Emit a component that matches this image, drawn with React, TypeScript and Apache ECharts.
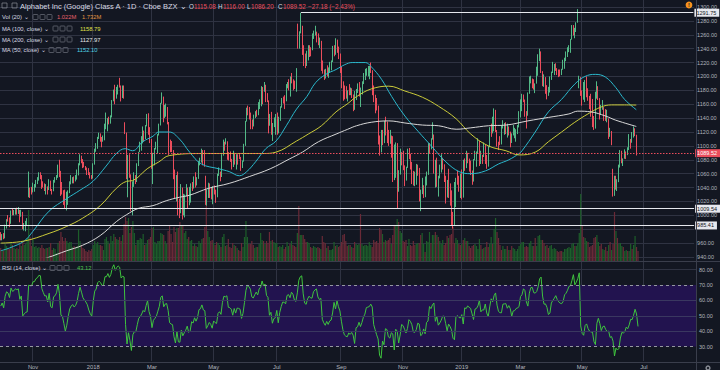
import React, { useEffect, useRef } from "react";
import * as echarts from "echarts";

const FONT = "'Liberation Sans', Arial, sans-serif";
const BG = "#131722";
const GRID = "#2f3342";
const AXIS_TEXT = "#b2b5be";
const LEGEND_TEXT = "#d8dae2";
const UP = "#53b987";
const DOWN = "#eb4d5c";
const VOL_UP = "#1d5e2a";
const VOL_DOWN = "#6a2a37";

// ---- calendar ----
const FIRST_DAY = "2017-10-02";
const AXIS_DAYS = 474;
const HOLIDAYS = [
  "2017-11-23", "2017-12-25", "2018-01-01", "2018-01-15", "2018-02-19", "2018-03-30",
  "2018-05-28", "2018-07-04", "2018-09-03", "2018-11-22", "2018-12-05", "2018-12-25",
  "2019-01-01", "2019-01-21", "2019-02-18", "2019-04-19", "2019-05-27", "2019-07-04",
];
const MONTH_NAMES = ["Jan", "Feb", "Mar", "Apr", "May", "Jun", "Jul", "Aug", "Sep", "Oct", "Nov", "Dec"];
const LABEL_MONTHS = [0, 2, 4, 6, 8, 10];

// ---- prices (daily, Oct 2 2017 .. Jun 25 2019) ----
const closesSep2017 = [955.3, 943.0, 943.4, 952.6, 944.8, 954.5, 960.4, 965.5, 949.2, 941.2, 940.4, 941.1, 947.3, 947.6, 945.9, 934.0, 940.4, 956.2, 961.0, 973.7];
const firstOpen = 975.6;

const closes = [
  // Oct 2017
  967.5, 972.1, 966.8, 985.2, 993.6, 992.3, 987.8, 1005.7, 1002.4, 1003.7, 1007.2, 1006.3, 1007.9, 999.0, 1003.8, 982.9, 985.4, 987.4, 987.8, 1033.7, 1033.1, 1033.0,
  // Nov 2017
  1042.6, 1043.0, 1050.0, 1052.4, 1058.3, 1058.0, 1047.7, 1044.2, 1041.2, 1041.6, 1036.4, 1048.5, 1035.9, 1034.7, 1050.3, 1051.9, 1056.5, 1072.0, 1063.3, 1037.4, 1036.2,
  // Dec 2017
  1025.1, 1011.9, 1019.6, 1032.7, 1044.6, 1049.4, 1052.0, 1048.8, 1051.4, 1057.5, 1072.0, 1085.1, 1079.8, 1073.6, 1070.9, 1068.9, 1065.9, 1060.2, 1056.0, 1053.4,
  // Jan 2018
  1073.2, 1091.5, 1095.8, 1110.3, 1114.2, 1112.8, 1110.1, 1112.1, 1130.7, 1130.7, 1139.1, 1136.0, 1143.5, 1164.2, 1176.2, 1171.3, 1182.1, 1187.6, 1186.5, 1177.4, 1182.2,
  // Feb 2018
  1181.6, 1119.2, 1062.4, 1084.4, 1055.4, 1007.7, 1046.3, 1054.6, 1054.1, 1072.7, 1091.4, 1095.5, 1103.6, 1113.8, 1109.9, 1128.1, 1143.7, 1117.5, 1104.7,
  // Mar 2018
  1069.5, 1089.5, 1094.8, 1100.9, 1115.0, 1129.4, 1160.8, 1165.9, 1139.9, 1148.9, 1150.6, 1134.4, 1100.1, 1095.8, 1094.0, 1053.2, 1026.6, 1054.1, 1006.9, 1005.2, 1037.1,
  // Apr 2018
  1012.0, 1020.3, 1027.5, 1038.5, 1014.5, 1018.3, 1043.2, 1038.6, 1053.3, 1043.0, 1052.5, 1075.4, 1078.2, 1089.9, 1077.9, 1076.1, 1026.6, 1033.1, 1041.2, 1035.8, 1024.4,
  // May 2018
  1040.8, 1036.2, 1034.3, 1056.8, 1060.8, 1055.2, 1085.9, 1104.7, 1103.4, 1106.6, 1084.9, 1084.1, 1081.3, 1069.6, 1084.0, 1075.3, 1086.0, 1085.5, 1084.1, 1068.1, 1077.3, 1100.0,
  // Jun 2018
  1135.0, 1153.0, 1151.0, 1147.0, 1134.4, 1132.7, 1140.9, 1148.2, 1144.2, 1160.1, 1165.5, 1184.7, 1178.0, 1184.0, 1168.4, 1165.5, 1135.3, 1141.3, 1118.5, 1127.6, 1129.2,
  // Jul 2018
  1144.0, 1118.0, 1140.5, 1155.0, 1167.3, 1167.1, 1164.2, 1186.5, 1188.8, 1183.9, 1198.8, 1195.9, 1187.0, 1184.9, 1205.5, 1248.1, 1263.7, 1268.3, 1238.5, 1219.7, 1217.3,
  // Aug 2018
  1233.0, 1241.1, 1238.2, 1237.7, 1255.8, 1261.3, 1264.5, 1252.5, 1248.6, 1251.3, 1214.4, 1206.5, 1201.0, 1207.8, 1201.6, 1207.3, 1208.8, 1220.7, 1241.8, 1231.2, 1249.3, 1239.1, 1231.8,
  // Sep 2018
  1211.9, 1192.0, 1178.1, 1174.3, 1172.7, 1178.3, 1175.1, 1177.8, 1172.0, 1151.9, 1174.8, 1176.2, 1183.5, 1175.1, 1181.4, 1190.0, 1194.8, 1206.2, 1207.1,
  // Oct 2018
  1208.0, 1212.0, 1208.5, 1183.0, 1173.6, 1163.6, 1154.5, 1104.4, 1090.6, 1116.8, 1104.0, 1134.2, 1131.8, 1109.1, 1104.9, 1114.9, 1111.4, 1050.7, 1098.0, 1090.6, 1037.0, 1058.7, 1090.6,
  // Nov 2018
  1086.0, 1071.5, 1055.8, 1068.3, 1094.6, 1088.7, 1077.0, 1049.4, 1048.0, 1054.6, 1071.1, 1068.3, 1027.4, 1030.5, 1043.3, 1026.1, 1054.6, 1058.3, 1103.0, 1097.3, 1109.7,
  // Dec 2018
  1116.4, 1062.5, 1078.1, 1046.6, 1053.2, 1061.7, 1073.7, 1073.5, 1051.7, 1025.7, 1043.4, 1035.5, 1023.6, 991.3, 984.7, 1047.9, 1052.9, 1046.7, 1045.0,
  // Jan 2019
  1054.7, 1025.5, 1078.1, 1075.9, 1085.4, 1081.7, 1078.8, 1064.5, 1048.6, 1079.2, 1081.2, 1089.0, 1107.3, 1078.6, 1084.4, 1084.0, 1101.5, 1079.9, 1070.1, 1098.0, 1125.9,
  // Feb 2019
  1118.6, 1141.4, 1151.9, 1122.9, 1105.9, 1102.4, 1102.1, 1127.6, 1128.6, 1129.2, 1119.6, 1126.5, 1120.6, 1104.2, 1116.6, 1117.3, 1122.0, 1122.9, 1126.6,
  // Mar 2019
  1148.5, 1153.4, 1169.2, 1166.8, 1150.1, 1143.4, 1175.8, 1193.2, 1194.2, 1186.2, 1185.6, 1189.6, 1202.4, 1229.0, 1236.1, 1207.7, 1193.0, 1193.6, 1187.5, 1174.0, 1176.9,
  // Apr 2019
  1199.0, 1205.5, 1210.8, 1217.2, 1211.5, 1208.1, 1206.3, 1205.6, 1209.6, 1222.2, 1225.5, 1231.6, 1240.1, 1241.5, 1253.8, 1270.6, 1260.1, 1267.3, 1277.4, 1296.2, 1199.0,
  // May 2019
  1173.3, 1166.5, 1189.6, 1193.5, 1178.9, 1170.8, 1168.0, 1167.6, 1136.6, 1124.9, 1170.8, 1184.5, 1168.8, 1144.7, 1154.4, 1155.9, 1145.3, 1138.6, 1139.6, 1119.9, 1121.4, 1106.5,
  // Jun 2019
  1038.7, 1054.5, 1044.6, 1047.8, 1068.8, 1081.0, 1079.1, 1081.5, 1091.0, 1086.7, 1094.0, 1105.2, 1104.5, 1113.2, 1125.4, 1116.7, 1089.52,
];

const highs = [
  975.8, 973, 974.4, 986.5, 994.5, 1000.4, 997, 1007, 1009.5, 1007.8, 1009, 1011, 1012, 1003, 1008, 1005, 989, 992, 996, 1063, 1040, 1041,
  1047, 1045, 1051, 1055, 1062, 1062, 1053, 1049, 1046, 1045, 1039, 1052, 1050, 1038, 1051, 1055, 1058, 1073, 1080, 1064, 1048,
  1032, 1037, 1034, 1036, 1049, 1058, 1055, 1056, 1058, 1066, 1075, 1088, 1086, 1081, 1077, 1071, 1068, 1068, 1062, 1058,
  1075, 1096, 1104, 1113, 1119, 1118, 1112, 1115, 1132, 1148, 1140, 1142, 1144, 1166, 1181, 1188, 1185, 1188, 1198, 1187, 1187,
  1187, 1134, 1111, 1087, 1088, 1059, 1049, 1062, 1058, 1075, 1091.4, 1106, 1114, 1128, 1122, 1130, 1146, 1147, 1127,
  1110, 1090, 1097, 1106, 1117, 1132, 1162, 1177, 1171, 1159, 1161, 1156, 1123, 1109, 1107, 1083, 1066, 1058, 1063, 1024, 1045,
  1040, 1031, 1030, 1045, 1040, 1041, 1046, 1048, 1056, 1062, 1055, 1078, 1083, 1096, 1094, 1094, 1057, 1037, 1047, 1046, 1041,
  1042, 1043, 1037, 1060, 1069, 1063, 1088, 1109, 1106, 1111, 1099, 1091, 1092, 1078, 1093, 1090, 1088, 1088, 1088, 1081, 1079, 1103,
  1136, 1155, 1158, 1156, 1148, 1138, 1145, 1150, 1152, 1163, 1167, 1186, 1181, 1192, 1188, 1176, 1155, 1146, 1149, 1133, 1141,
  1146, 1148, 1142, 1157, 1169, 1171, 1173, 1189, 1192, 1196, 1200, 1205, 1193, 1194, 1212, 1276, 1265, 1291.75, 1273, 1245, 1233,
  1237, 1245, 1245, 1242, 1262, 1266, 1273, 1263, 1262, 1256, 1241, 1223, 1210, 1211, 1216, 1213, 1221, 1223, 1244, 1245, 1255, 1253, 1243,
  1233, 1214, 1193, 1187, 1186, 1180, 1189, 1184, 1183, 1174, 1179, 1182, 1190, 1192, 1184, 1193, 1205, 1211, 1212,
  1215, 1215, 1220, 1209, 1187, 1173, 1169, 1158, 1115, 1123, 1123, 1136, 1142, 1135, 1123, 1123, 1113, 1114, 1102, 1105, 1104, 1065, 1096,
  1091, 1093, 1072, 1070, 1096, 1097, 1083, 1077, 1064, 1063, 1074, 1073, 1066, 1037, 1054, 1038, 1056, 1063, 1104, 1104, 1111,
  1134, 1112, 1080, 1083, 1057, 1073, 1088, 1083, 1068, 1057, 1051, 1067, 1046, 1036, 1005, 1048, 1054, 1064, 1057,
  1060, 1066, 1080, 1082, 1093, 1090, 1079, 1073, 1058, 1081, 1093, 1092, 1111, 1102, 1093, 1087, 1105, 1090, 1087, 1100, 1127,
  1132, 1142, 1154, 1146, 1118, 1106, 1114, 1130, 1137, 1133, 1134, 1132, 1128, 1120, 1118, 1130, 1126, 1124, 1130,
  1150, 1167, 1175, 1174, 1164, 1146, 1177, 1200, 1201, 1197, 1196, 1190, 1214, 1232, 1240, 1234, 1206, 1203, 1199, 1183, 1185,
  1200, 1207, 1221, 1218, 1219, 1212, 1210, 1210, 1211, 1224, 1227, 1236, 1242, 1245, 1254, 1274, 1274, 1270, 1278, 1297, 1201,
  1198, 1180, 1192, 1195, 1200, 1183, 1172, 1175, 1150, 1143, 1178, 1193, 1186, 1156, 1159, 1166, 1151, 1153, 1152, 1130, 1126, 1114,
  1067, 1057, 1057, 1052, 1073, 1094, 1093, 1082, 1095, 1092, 1098, 1117, 1110, 1120, 1128, 1124, 1116,
];

const lows = [
  964, 964, 965.6, 970.3, 981, 991, 983, 990, 1000, 1000, 1001, 1001, 1002, 990, 998, 980, 978, 977, 985, 1026, 1025, 1030,
  1033, 1034, 1040, 1045, 1050, 1052, 1038, 1040, 1035, 1030, 1030, 1040, 1035, 1030, 1040, 1047, 1051, 1054, 1055, 1028, 1030,
  1015, 1010, 1007, 1015, 1032, 1048, 1046, 1046, 1050, 1053, 1060, 1072, 1075, 1068, 1069, 1065, 1058, 1058, 1053, 1052,
  1053, 1073, 1092, 1101, 1110, 1106, 1098, 1106, 1108, 1124, 1121, 1131, 1132, 1141, 1167, 1160, 1168, 1174, 1184, 1164, 1169,
  1168, 1117, 1052, 1026, 1054, 1006, 1000, 1041, 1045, 1048, 1071, 1091, 1093, 1106, 1106, 1113, 1129, 1116, 1104,
  1067, 1045, 1072, 1095, 1089, 1118, 1137, 1163, 1134, 1142, 1142, 1131, 1087, 1091, 1091, 1052, 1025, 1020, 1000, 996, 1003,
  994, 1000, 997, 1030, 1010, 1015, 1027, 1035, 1040, 1040, 1044, 1060, 1072, 1076, 1072, 1070, 1015, 1014, 1025, 1025, 1023,
  1016, 1030, 1018, 1026, 1057, 1049, 1060, 1089, 1093, 1102, 1080, 1079, 1077, 1066, 1080, 1073, 1066, 1073, 1081, 1064, 1069, 1078,
  1108, 1139, 1144, 1138, 1124, 1124, 1128, 1140, 1142, 1147, 1153, 1157, 1160, 1178, 1163, 1163, 1118, 1129, 1116, 1107, 1127,
  1116, 1116, 1121, 1136, 1157, 1161, 1153, 1170, 1183, 1180, 1171, 1190, 1180, 1182, 1178, 1240, 1240, 1262, 1231, 1215, 1212,
  1215, 1223, 1228, 1229, 1241, 1254, 1259, 1249, 1245, 1241, 1208, 1204, 1195, 1197, 1200, 1198, 1205, 1210, 1227, 1229, 1232, 1234, 1225,
  1205, 1183, 1165, 1167, 1168, 1164, 1173, 1173, 1169, 1150, 1153, 1166, 1178, 1171, 1156, 1174, 1189, 1197, 1201,
  1200, 1196, 1205, 1173, 1163, 1147, 1151, 1102, 1086, 1100, 1101, 1110, 1115, 1104, 1100, 1103, 1083, 1048, 1066, 1054, 1010, 1034, 1067,
  1072, 1065, 1042, 1050, 1074, 1081, 1066, 1045, 1043, 1042, 1044, 1057, 1020, 1006, 1037, 1025, 1033, 1043, 1061, 1089, 1095,
  1109, 1060, 1040, 1041, 1027, 1056, 1068, 1066, 1048, 1017, 1031, 1025, 1014, 985, 981, 987, 1012, 1044, 1034,
  1025, 1023, 1036, 1064, 1068, 1075, 1063, 1058, 1044, 1051, 1080, 1070, 1095, 1071, 1074, 1074, 1095, 1074, 1067, 1080, 1102,
  1113, 1118, 1121, 1120, 1099, 1094, 1101, 1110, 1125, 1116, 1117, 1112, 1115, 1098, 1107, 1115, 1111, 1106, 1117,
  1132, 1141, 1150, 1163, 1142, 1125, 1144, 1175, 1190, 1183, 1181, 1176, 1195, 1201, 1222, 1205, 1186, 1185, 1175, 1167, 1172,
  1185, 1195, 1205, 1202, 1208, 1202, 1199, 1200, 1202, 1213, 1211, 1222, 1228, 1235, 1234, 1253, 1259, 1255, 1264, 1279, 1183,
  1172, 1158, 1171, 1163, 1170, 1165, 1153, 1142, 1127, 1123, 1126, 1168, 1166, 1138, 1148, 1152, 1136, 1136, 1134, 1110, 1113, 1101,
  1027, 1028, 1037, 1035, 1052, 1073, 1075, 1071, 1082, 1081, 1088, 1100, 1096, 1107, 1112, 1114, 1086.2,
];

// volume, millions
const volumes = [
  1.3, 1.1, 1.0, 1.7, 1.5, 1.3, 1.2, 1.8, 1.6, 1.3, 1.2, 1.3, 1.2, 1.7, 1.5, 1.9, 1.6, 1.7, 2.3, 5.1, 2.4, 1.5,
  2.1, 1.4, 1.5, 1.3, 1.4, 1.3, 1.6, 1.3, 1.2, 1.3, 1.3, 1.4, 1.8, 1.1, 1.3, 1.2, 0.8, 1.8, 2.0, 2.9, 2.4,
  2.0, 2.3, 2.0, 1.8, 1.9, 1.9, 1.4, 1.5, 1.3, 1.5, 3.2, 2.0, 1.6, 1.3, 1.2, 1.0, 0.9, 1.1, 1.0, 1.2,
  1.6, 2.0, 1.7, 1.9, 1.6, 1.6, 1.5, 1.1, 2.2, 2.4, 2.0, 1.7, 2.5, 2.0, 2.7, 2.4, 2.2, 2.1, 2.4, 2.0, 2.6,
  3.7, 4.4, 4.0, 4.3, 2.8, 3.4, 4.0, 2.8, 1.6, 2.1, 2.1, 2.3, 2.2, 2.7, 1.6, 1.7, 2.1, 2.2, 2.4,
  3.3, 3.4, 1.9, 1.7, 2.0, 2.0, 2.8, 2.7, 2.6, 2.0, 1.7, 3.0, 3.6, 2.7, 1.9, 3.4, 2.9, 3.3, 3.3, 3.9, 3.5,
  3.5, 2.8, 3.0, 2.2, 2.4, 2.0, 2.1, 1.5, 1.7, 1.5, 1.4, 2.0, 1.8, 2.2, 2.3, 3.4, 6.2, 3.0, 2.4, 2.0, 2.1,
  1.8, 1.6, 1.9, 1.8, 1.6, 1.4, 2.4, 2.7, 1.5, 1.6, 2.2, 1.4, 1.3, 1.8, 1.6, 1.5, 1.3, 1.1, 1.0, 1.8, 1.4, 2.4,
  4.0, 2.4, 1.7, 1.7, 2.0, 1.6, 1.3, 1.4, 1.4, 1.7, 2.8, 2.1, 2.0, 1.7, 2.0, 1.8, 2.9, 2.0, 2.1, 1.9, 1.8,
  1.8, 1.4, 1.5, 1.4, 1.6, 1.2, 1.4, 1.9, 1.5, 1.7, 2.0, 1.6, 1.5, 1.4, 2.8, 5.5, 2.6, 2.6, 2.6, 2.2, 1.9,
  1.9, 1.8, 1.4, 1.3, 1.5, 1.4, 1.3, 1.4, 1.3, 1.2, 2.5, 1.9, 1.8, 1.3, 1.5, 1.1, 1.1, 1.2, 1.9, 1.5, 1.6, 1.4, 1.5,
  1.9, 2.6, 2.7, 2.0, 1.5, 1.6, 1.6, 1.4, 1.3, 1.9, 1.7, 1.6, 1.7, 4.7, 1.7, 1.5, 1.6, 1.6, 1.5,
  1.9, 1.6, 1.4, 2.1, 1.9, 2.0, 1.8, 3.3, 3.1, 2.7, 1.9, 2.1, 2.0, 2.1, 2.3, 1.7, 2.6, 3.6, 3.5, 4.2, 3.9, 3.0, 2.8,
  2.0, 1.9, 2.1, 1.5, 2.2, 1.6, 1.5, 2.0, 1.6, 1.7, 1.8, 1.8, 2.6, 2.8, 1.7, 0.9, 2.0, 1.9, 2.9, 1.8, 2.6,
  2.6, 2.9, 2.6, 2.4, 2.0, 1.7, 2.1, 1.6, 1.8, 2.5, 2.3, 2.6, 2.7, 3.4, 1.8, 2.3, 2.1, 1.7, 1.6,
  1.7, 2.1, 2.3, 2.0, 2.0, 1.5, 1.3, 1.5, 1.6, 1.7, 1.5, 1.2, 2.2, 1.6, 1.2, 1.3, 1.4, 1.9, 1.4, 1.7, 2.4,
  1.7, 3.2, 4.3, 2.9, 2.3, 1.6, 1.1, 1.5, 1.2, 1.2, 1.5, 1.1, 1.1, 1.5, 1.3, 1.2, 1.0, 1.2, 1.5,
  1.7, 1.9, 1.9, 1.4, 1.5, 1.4, 1.8, 2.0, 1.5, 1.5, 2.3, 1.5, 2.5, 2.6, 2.1, 2.1, 1.8, 1.5, 1.6, 1.3, 1.5,
  1.6, 1.2, 1.3, 1.2, 1.0, 0.9, 1.0, 1.0, 0.9, 1.2, 1.2, 1.3, 1.4, 1.3, 1.7, 1.8, 1.5, 1.5, 1.8, 2.8, 6.7,
  3.6, 2.4, 2.3, 2.0, 1.9, 1.4, 1.5, 1.6, 2.3, 2.4, 2.6, 1.9, 1.5, 1.7, 1.2, 1.1, 1.4, 1.0, 1.6, 1.9, 1.1, 1.7,
  4.9, 3.0, 2.3, 1.7, 1.8, 1.5, 1.4, 1.0, 1.1, 1.0, 1.0, 1.7, 1.2, 1.6, 2.5, 1.4, 1.0,
];

// opening gaps (open differs from previous close)
const openGaps: [string, number][] = [
  ["2017-10-27", 1031], ["2018-02-02", 1128], ["2018-04-24", 1052], ["2018-07-24", 1271],
  ["2018-10-26", 1060], ["2019-04-30", 1190], ["2019-06-03", 1066], ["2019-06-25", 1115.08],
];

// moving averages
const ma50: [string, number][] = [
  ["2017-10-02", 949], ["2017-10-10", 953], ["2017-10-24", 963], ["2017-11-01", 977], ["2017-11-16", 1006],
  ["2017-12-05", 1024], ["2017-12-18", 1036], ["2018-01-02", 1049], ["2018-01-16", 1071], ["2018-01-25", 1089],
  ["2018-02-02", 1096], ["2018-02-09", 1093], ["2018-02-21", 1106], ["2018-03-02", 1114], ["2018-03-08", 1120],
  ["2018-03-19", 1120], ["2018-03-28", 1110], ["2018-04-09", 1091], ["2018-04-19", 1074], ["2018-05-07", 1067],
  ["2018-05-16", 1063], ["2018-05-25", 1057], ["2018-06-04", 1063], ["2018-06-12", 1077], ["2018-06-21", 1096],
  ["2018-07-02", 1107], ["2018-07-12", 1129], ["2018-07-23", 1153], ["2018-08-01", 1171], ["2018-08-09", 1191],
  ["2018-08-20", 1203], ["2018-08-29", 1210], ["2018-09-07", 1217], ["2018-09-14", 1220], ["2018-09-27", 1220],
  ["2018-10-03", 1214], ["2018-10-12", 1196], ["2018-10-23", 1171], ["2018-11-05", 1143], ["2018-11-16", 1121],
  ["2018-11-30", 1100], ["2018-12-17", 1077], ["2018-12-31", 1063], ["2019-01-11", 1060], ["2019-01-28", 1064],
  ["2019-02-08", 1074], ["2019-02-20", 1080], ["2019-03-01", 1089], ["2019-03-05", 1093], ["2019-03-18", 1120],
  ["2019-03-29", 1149], ["2019-04-11", 1167], ["2019-04-25", 1189], ["2019-05-06", 1200], ["2019-05-15", 1203],
  ["2019-05-24", 1199], ["2019-06-05", 1184], ["2019-06-13", 1167], ["2019-06-25", 1152.1],
];
const ma100: [string, number][] = [
  ["2017-10-02", 960], ["2017-10-24", 963], ["2017-11-16", 974], ["2017-12-05", 984], ["2017-12-20", 996],
  ["2018-01-09", 1014], ["2018-01-25", 1039], ["2018-02-05", 1049], ["2018-02-09", 1050], ["2018-02-26", 1067],
  ["2018-03-08", 1077], ["2018-03-19", 1086], ["2018-04-19", 1089], ["2018-05-23", 1089], ["2018-06-19", 1089],
  ["2018-07-02", 1091], ["2018-07-23", 1107], ["2018-08-02", 1117], ["2018-08-15", 1129], ["2018-08-29", 1149],
  ["2018-09-11", 1161], ["2018-09-19", 1171], ["2018-10-03", 1182], ["2018-10-19", 1186], ["2018-11-05", 1179],
  ["2018-11-21", 1170], ["2018-12-10", 1157], ["2018-12-27", 1139], ["2019-01-11", 1117], ["2019-01-30", 1100],
  ["2019-02-15", 1093], ["2019-03-01", 1087], ["2019-03-18", 1091], ["2019-03-29", 1106], ["2019-04-11", 1120],
  ["2019-04-25", 1134], ["2019-05-08", 1146], ["2019-05-21", 1156], ["2019-05-31", 1159], ["2019-06-13", 1159],
  ["2019-06-25", 1158.8],
];
const ma200: [string, number][] = [
  ["2017-10-02", 918], ["2017-10-24", 928], ["2017-11-15", 939], ["2017-12-05", 949], ["2017-12-20", 957],
  ["2018-01-09", 971], ["2018-01-25", 991], ["2018-02-05", 1001], ["2018-02-15", 1010], ["2018-03-02", 1014],
  ["2018-03-15", 1021], ["2018-03-28", 1026], ["2018-04-09", 1029], ["2018-04-26", 1039], ["2018-05-16", 1046],
  ["2018-06-06", 1056], ["2018-06-26", 1067], ["2018-07-16", 1081], ["2018-07-27", 1091], ["2018-08-13", 1106],
  ["2018-08-29", 1117], ["2018-09-11", 1124], ["2018-09-19", 1129], ["2018-10-03", 1134], ["2018-10-19", 1136],
  ["2018-11-05", 1133], ["2018-11-21", 1130], ["2018-12-10", 1129], ["2018-12-27", 1124], ["2019-01-11", 1126],
  ["2019-01-30", 1129], ["2019-02-15", 1130], ["2019-03-11", 1136], ["2019-03-29", 1141], ["2019-04-18", 1146],
  ["2019-04-29", 1150], ["2019-05-10", 1149], ["2019-05-24", 1143], ["2019-06-05", 1137], ["2019-06-25", 1128],
];

// horizontal price lines
const levelLines = [1009.54, 985.41];
const highLine: [string, number] = ["2018-07-26", 1291.75];
const lastPrice = 1089.52;
// price-scale ticks hidden behind the level boxes
const hiddenPriceTicks = [980];

// RSI levels
const rsiGridLevels = [80, 60, 50, 40];
const rsiBands = [70, 30];

function buildDates(): string[] {
  const out: string[] = [];
  const d = new Date(FIRST_DAY + "T00:00:00Z");
  while (out.length < AXIS_DAYS) {
    const wd = d.getUTCDay();
    const s = d.toISOString().slice(0, 10);
    if (wd !== 0 && wd !== 6 && !HOLIDAYS.includes(s)) out.push(s);
    d.setUTCDate(d.getUTCDate() + 1);
  }
  return out;
}

function computeRsi(all: number[], period: number): number[] {
  const out: number[] = all.map(() => NaN);
  let g = 0;
  let l = 0;
  for (let i = 1; i <= period; i++) {
    const d = all[i] - all[i - 1];
    if (d > 0) g += d;
    else l -= d;
  }
  g /= period;
  l /= period;
  out[period] = 100 - 100 / (1 + g / l);
  for (let i = period + 1; i < all.length; i++) {
    const d = all[i] - all[i - 1];
    g = (g * (period - 1) + Math.max(d, 0)) / period;
    l = (l * (period - 1) + Math.max(-d, 0)) / period;
    out[i] = l === 0 ? 100 : 100 - 100 / (1 + g / l);
  }
  return out;
}

function txt(x: number, y: number, text: string, fill: string, size: number) {
  return {
    type: "text",
    x,
    y,
    z: 100,
    silent: true,
    style: { text, fill, fontSize: size, fontFamily: FONT, verticalAlign: "middle", align: "left" },
  };
}
function iconRow(x: number, y: number) {
  return [0, 1, 2].map((k) => ({
    type: "rect",
    z: 100,
    silent: true,
    shape: { x: x + k * 7, y: y - 2.5, width: 5, height: 5, r: 0.8 },
    style: { fill: "none", stroke: "#70737e", lineWidth: 0.7 },
  }));
}

export default function App() {
  const ref = useRef<HTMLDivElement>(null);

  useEffect(() => {
    if (!ref.current) return;
    const chart = echarts.init(ref.current, null, { renderer: "svg" });

    const dates = buildDates();
    const gapMap: Record<string, number> = {};
    openGaps.forEach(([d, o]) => (gapMap[d] = o));

    const candles = closes.map((c, i) => {
      const o = gapMap[dates[i]] !== undefined ? gapMap[dates[i]] : i === 0 ? firstOpen : closes[i - 1];
      const h = Math.max(highs[i], o, c);
      const l = Math.min(lows[i], o, c);
      return [o, c, l, h];
    });
    const volData = volumes.map((v, i) => ({
      value: v,
      itemStyle: { color: candles[i][1] >= candles[i][0] ? VOL_UP : VOL_DOWN },
    }));
    const rsiAll = computeRsi([...closesSep2017, ...closes], 14);
    const rsi = rsiAll.slice(closesSep2017.length);

    const labelIdx = new Set<number>();
    for (let i = 1; i < dates.length; i++) {
      const m = parseInt(dates[i].slice(5, 7), 10) - 1;
      const pm = parseInt(dates[i - 1].slice(5, 7), 10) - 1;
      if (m !== pm && LABEL_MONTHS.includes(m)) labelIdx.add(i);
    }
    const isLabel = (i: number) => labelIdx.has(i);
    const fmtDate = (v: string) => {
      const m = parseInt(v.slice(5, 7), 10) - 1;
      return m === 0 ? v.slice(0, 4) : MONTH_NAMES[m];
    };
    const lastDate = dates[dates.length - 1];

    const priceBox = (text: string, bg: string, fg: string) => ({
      show: true,
      position: "end",
      distance: 1,
      formatter: text,
      color: fg,
      backgroundColor: bg,
      padding: [1, 3, 1, 2],
      fontSize: 5.5,
      fontFamily: FONT,
    });

    const W = 696;
    const grids = [
      { left: 0, width: W, top: 7, height: 250 }, // price
      { left: 0, width: W, top: 161, height: 100 }, // volume
      { left: 0, width: W, top: 261, height: 101 }, // rsi
      { left: 0, width: W, top: 0, height: 362 }, // vertical grid + time labels
    ];
    const hiddenX = (gi: number) => ({
      type: "category",
      gridIndex: gi,
      data: dates,
      boundaryGap: true,
      show: false,
    });

    const legend: any[] = [
      { type: "rect", z: 100, silent: true, shape: { x: 2, y: 3, width: 5, height: 5 }, style: { fill: "none", stroke: "#8a8d96", lineWidth: 0.7 } },
      { type: "rect", z: 100, silent: true, shape: { x: 12, y: 3, width: 5, height: 5 }, style: { fill: "none", stroke: "#8a8d96", lineWidth: 0.7 } },
      txt(20, 6, "Alphabet Inc (Google) Class A · 1D · Cboe BZX ⌄", LEGEND_TEXT, 7.5),
      txt(189, 6, "O", LEGEND_TEXT, 6.3),
      txt(194, 6, "1115.08", DOWN, 6.3),
      txt(218, 6, "H", LEGEND_TEXT, 6.3),
      txt(223, 6, "1116.00", DOWN, 6.3),
      txt(247, 6, "L", LEGEND_TEXT, 6.3),
      txt(251, 6, "1086.20", DOWN, 6.3),
      txt(278, 6, "C", LEGEND_TEXT, 6.3),
      txt(283, 6, "1089.52", DOWN, 6.3),
      txt(308, 6, "−27.18 (−2.43%)", DOWN, 6.3),

      txt(2, 17, "Vol (20) ⌄", LEGEND_TEXT, 5.8),
      ...iconRow(33, 17),
      txt(57, 17, "1.022M", "#e5606a", 5.8),
      txt(82, 17, "1.732M", "#e09540", 5.8),

      txt(2, 28.5, "MA (100, close) ⌄", LEGEND_TEXT, 5.8),
      ...iconRow(53, 28.5),
      txt(80, 28.5, "1158.79", "#e0e04a", 5.8),

      txt(2, 39.5, "MA (200, close) ⌄", LEGEND_TEXT, 5.8),
      ...iconRow(53, 39.5),
      txt(80, 39.5, "1127.97", "#e8e8e8", 5.8),

      txt(2, 50, "MA (50, close) ⌄", LEGEND_TEXT, 5.8),
      ...iconRow(49, 50),
      txt(77, 50, "1152.10", "#4fd3e4", 5.8),

      txt(2, 268, "RSI (14, close) ⌄", LEGEND_TEXT, 5.8),
      ...iconRow(50, 268),
      txt(77, 268, "43.12", "#4cc24c", 5.8),

      // pane separators and price-scale border
      { type: "line", z: 90, silent: true, shape: { x1: 0, y1: 261.5, x2: 720, y2: 261.5 }, style: { stroke: "#3a3e4c", lineWidth: 1 } },
      { type: "line", z: 90, silent: true, shape: { x1: 0, y1: 362.5, x2: 720, y2: 362.5 }, style: { stroke: "#3a3e4c", lineWidth: 1 } },
      { type: "line", z: 90, silent: true, shape: { x1: 696.5, y1: 0, x2: 696.5, y2: 370 }, style: { stroke: "#3a3e4c", lineWidth: 1 } },
      // alert icon
      { type: "circle", z: 100, silent: true, shape: { cx: 689, cy: 5, r: 3.4 }, style: { fill: "#f7931e" } },
      { type: "text", z: 101, silent: true, x: 689, y: 5.3, style: { text: "!", fill: "#131722", fontSize: 5.5, fontWeight: "bold", fontFamily: FONT, align: "center", verticalAlign: "middle" } },
      // settings gear
      { type: "ring", z: 100, silent: true, shape: { cx: 708, cy: 368, r: 2.6, r0: 1.2 }, style: { fill: "#8a8d96" } },
    ];

    const option: any = {
      animation: false,
      backgroundColor: BG,
      textStyle: { fontFamily: FONT },
      grid: grids,
      xAxis: [
        hiddenX(0),
        hiddenX(1),
        hiddenX(2),
        {
          type: "category",
          gridIndex: 3,
          data: dates,
          boundaryGap: true,
          axisLine: { show: false },
          axisTick: { show: false },
          axisLabel: {
            interval: (i: number) => isLabel(i),
            formatter: (v: string) => fmtDate(v),
            color: AXIS_TEXT,
            fontSize: 5.8,
            margin: 3,
            fontFamily: FONT,
          },
          splitLine: { show: true, interval: (i: number) => isLabel(i), lineStyle: { color: GRID, width: 1 } },
        },
      ],
      yAxis: [
        {
          type: "value",
          gridIndex: 0,
          position: "right",
          min: 940,
          max: 1300,
          interval: 20,
          axisLine: { show: false },
          axisTick: { show: false },
          axisLabel: {
            color: AXIS_TEXT,
            fontSize: 5.5,
            margin: 3,
            fontFamily: FONT,
            formatter: (v: number) => (hiddenPriceTicks.includes(v) ? "" : v.toFixed(2)),
          },
          splitLine: { show: true, lineStyle: { color: GRID, width: 1 } },
        },
        { type: "value", gridIndex: 1, min: 0, max: 10, show: false, splitLine: { show: false } },
        {
          type: "value",
          gridIndex: 2,
          position: "right",
          min: 20,
          max: 85.6,
          interval: 10,
          axisLine: { show: false },
          axisTick: { show: false },
          splitLine: { show: false },
          axisLabel: {
            color: AXIS_TEXT,
            fontSize: 5.5,
            margin: 3,
            fontFamily: FONT,
            formatter: (v: number) => (v >= 30 && v <= 80 && Math.abs(v % 10) < 1e-6 ? v.toFixed(2) : ""),
          },
        },
        { type: "value", gridIndex: 3, min: 0, max: 1, show: false, splitLine: { show: false } },
      ],
      series: [
        {
          name: "Volume",
          type: "bar",
          xAxisIndex: 1,
          yAxisIndex: 1,
          data: volData,
          barWidth: "82%",
          silent: true,
        },
        {
          name: "Price",
          type: "candlestick",
          xAxisIndex: 0,
          yAxisIndex: 0,
          data: candles,
          barWidth: 0.6,
          silent: true,
          itemStyle: { color: UP, color0: DOWN, borderColor: UP, borderColor0: DOWN, borderWidth: 1 },
          markLine: {
            symbol: ["none", "none"],
            silent: true,
            animation: false,
            data: [
              ...levelLines.map((v) => ({
                yAxis: v,
                lineStyle: { color: "#e6e8ee", width: 1, type: "solid" },
                label: priceBox(v.toFixed(2), "#e6e8ee", "#131722"),
              })),
              [
                {
                  coord: [highLine[0], highLine[1]],
                  lineStyle: { color: "#e6e8ee", width: 1, type: "solid" },
                  label: priceBox(highLine[1].toFixed(2), "#e6e8ee", "#131722"),
                },
                { coord: [lastDate, highLine[1]] },
              ],
              {
                yAxis: lastPrice,
                lineStyle: { color: DOWN, width: 1, type: [1.5, 1.5] },
                label: priceBox(lastPrice.toFixed(2), DOWN, "#ffffff"),
              },
            ],
          },
        },
        {
          name: "MA50",
          type: "line",
          xAxisIndex: 0,
          yAxisIndex: 0,
          data: ma50,
          smooth: 0.4,
          showSymbol: false,
          silent: true,
          lineStyle: { color: "#2bb8cc", width: 1 },
        },
        {
          name: "MA100",
          type: "line",
          xAxisIndex: 0,
          yAxisIndex: 0,
          data: ma100,
          smooth: 0.4,
          showSymbol: false,
          silent: true,
          lineStyle: { color: "#cccc3a", width: 1 },
        },
        {
          name: "MA200",
          type: "line",
          xAxisIndex: 0,
          yAxisIndex: 0,
          data: ma200,
          smooth: 0.4,
          showSymbol: false,
          silent: true,
          lineStyle: { color: "#d8d8d8", width: 1 },
        },
        {
          name: "RSI",
          type: "line",
          xAxisIndex: 2,
          yAxisIndex: 2,
          data: rsi,
          showSymbol: false,
          silent: true,
          lineStyle: { color: "#3fc43f", width: 1 },
          markArea: {
            silent: true,
            itemStyle: { color: "#22134f" },
            data: [[{ yAxis: rsiBands[1] }, { yAxis: rsiBands[0] }]],
          },
          markLine: {
            symbol: ["none", "none"],
            silent: true,
            animation: false,
            label: { show: false },
            data: [
              ...rsiGridLevels.map((v) => ({ yAxis: v, lineStyle: { color: v === 80 ? GRID : "#3a3860", width: 1, type: "solid" } })),
              ...rsiBands.map((v) => ({ yAxis: v, lineStyle: { color: "#9598a1", width: 1, type: [3, 3] } })),
            ],
          },
        },
      ],
      graphic: legend,
    };

    chart.setOption(option);
    return () => chart.dispose();
  }, []);

  return (
    <div
      ref={ref}
      style={{ position: "fixed", left: 0, top: 0, width: 720, height: 370, background: BG }}
    />
  );
}
